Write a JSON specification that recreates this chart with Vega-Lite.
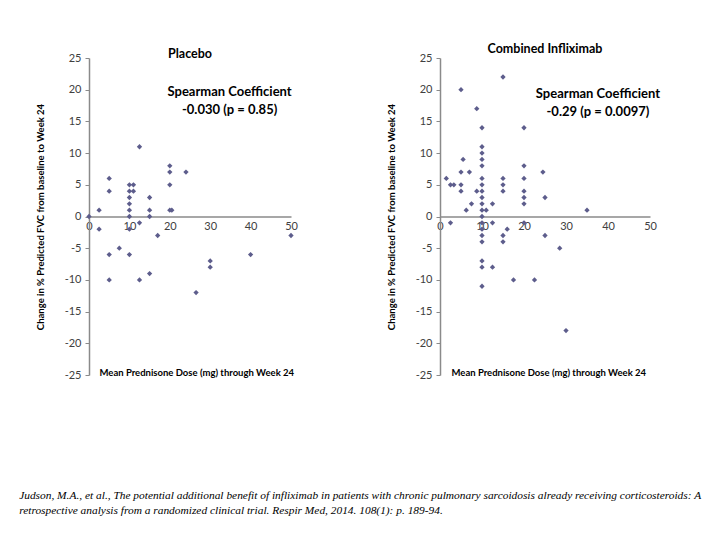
{
  "$schema": "https://vega.github.io/schema/vega-lite/v6.json",
  "background": "white",
  "padding": {"left": 19, "top": 43, "right": 5, "bottom": 5},
  "datasets": {
    "placebo": [
      {"dose": 0, "change": 0}, {"dose": 2.5, "change": 1}, {"dose": 2.5, "change": -2},
      {"dose": 5, "change": 6}, {"dose": 5, "change": 4}, {"dose": 5, "change": -6}, {"dose": 5, "change": -10},
      {"dose": 7.5, "change": -5}, {"dose": 10, "change": 5}, {"dose": 11, "change": 5}, {"dose": 10, "change": 4},
      {"dose": 11, "change": 4}, {"dose": 10, "change": 3}, {"dose": 10, "change": 2}, {"dose": 10, "change": 1},
      {"dose": 10, "change": 0}, {"dose": 10, "change": -2}, {"dose": 10, "change": -6}, {"dose": 12.5, "change": 11},
      {"dose": 12.5, "change": -1}, {"dose": 12.5, "change": -10}, {"dose": 15, "change": 3}, {"dose": 15, "change": 1},
      {"dose": 15, "change": 0}, {"dose": 15, "change": -9}, {"dose": 17, "change": -3}, {"dose": 20, "change": 8},
      {"dose": 20, "change": 7}, {"dose": 20, "change": 5}, {"dose": 20, "change": 1}, {"dose": 20.5, "change": 1},
      {"dose": 24, "change": 7}, {"dose": 26.5, "change": -12}, {"dose": 30, "change": -7}, {"dose": 30, "change": -8},
      {"dose": 40, "change": -6}, {"dose": 50, "change": -3}
    ],
    "infliximab": [
      {"dose": 1.5, "change": 6}, {"dose": 2.5, "change": 5}, {"dose": 3.3, "change": 5}, {"dose": 2.5, "change": -1},
      {"dose": 5, "change": 20}, {"dose": 5, "change": 7}, {"dose": 5, "change": 5}, {"dose": 5, "change": 4},
      {"dose": 5.5, "change": 9}, {"dose": 6.25, "change": 1}, {"dose": 7, "change": 7}, {"dose": 7.5, "change": 2},
      {"dose": 8.75, "change": 17}, {"dose": 8.75, "change": 4}, {"dose": 10, "change": 14}, {"dose": 10, "change": 11},
      {"dose": 10, "change": 10}, {"dose": 10, "change": 9}, {"dose": 10, "change": 8}, {"dose": 10, "change": 6},
      {"dose": 10, "change": 5}, {"dose": 10, "change": 4}, {"dose": 10, "change": 3}, {"dose": 10, "change": 2},
      {"dose": 10, "change": 1}, {"dose": 10, "change": 0}, {"dose": 10, "change": -1}, {"dose": 10, "change": -2},
      {"dose": 10, "change": -3}, {"dose": 10, "change": -4}, {"dose": 10, "change": -7}, {"dose": 10, "change": -8},
      {"dose": 10, "change": -11}, {"dose": 11, "change": 1}, {"dose": 12.5, "change": 2}, {"dose": 12.5, "change": -1},
      {"dose": 12.5, "change": -8}, {"dose": 15, "change": 22}, {"dose": 15, "change": 6}, {"dose": 15, "change": 5},
      {"dose": 15, "change": 4}, {"dose": 15, "change": -3}, {"dose": 15, "change": -4}, {"dose": 16, "change": -2},
      {"dose": 17.5, "change": -10}, {"dose": 20, "change": 14}, {"dose": 20, "change": 8}, {"dose": 20, "change": 6},
      {"dose": 20, "change": 4}, {"dose": 20, "change": 3}, {"dose": 20, "change": 2}, {"dose": 20, "change": -1},
      {"dose": 22.5, "change": -10}, {"dose": 24.5, "change": 7}, {"dose": 25, "change": 3}, {"dose": 25, "change": -3},
      {"dose": 28.5, "change": -5}, {"dose": 30, "change": -18}, {"dose": 35, "change": 1}
    ]
  },
  "title": {
    "text": ["Judson, M.A., et al., The potential additional benefit of infliximab in patients with chronic pulmonary sarcoidosis already receiving corticosteroids: A", "retrospective analysis from a randomized clinical trial. Respir Med, 2014. 108(1): p. 189-94."],
    "orient": "bottom", "anchor": "start", "font": "Liberation Serif", "fontSize": 11.4, "fontStyle": "italic",
    "fontWeight": "normal", "color": "#000000", "offset": 110, "dx": -16, "lineHeight": 15
  },
  "spacing": 88,
  "config": {
    "view": {"stroke": null},
    "axisX": {"orient": "bottom", "offset": -158.5, "grid": false, "ticks": false, "domainColor": "#8a8a8a", "domainWidth": 1.5,
      "labelFont": "Lato", "labelFontSize": 11, "labelColor": "#404040", "labelPadding": 4, "labelFlush": false, "labelOverlap": false,
      "titleFont": "Lato", "titleFontSize": 9.5, "titleFontWeight": "bold", "titleColor": "#000000", "titleY": 156, "titleAlign": "left", "titleBaseline": "middle"},
    "axisY": {"grid": false, "ticks": true, "tickSize": 4, "tickColor": "#8a8a8a", "domainColor": "#8a8a8a", "domainWidth": 1.5,
      "labelFont": "Lato", "labelFontSize": 11, "labelColor": "#404040", "labelPadding": 4, "labelOverlap": false,
      "titleFont": "Lato", "titleFontSize": 9.5, "titleFontWeight": "bold", "titleColor": "#000000", "titlePadding": 19}
  },
  "hconcat": [
    {
      "width": 202, "height": 317,
      "title": {"text": "Placebo", "font": "Lato", "fontSize": 12.5, "fontWeight": "bold", "color": "#000000", "offset": -8},
      "layer": [
        {
          "data": {"name": "placebo"},
          "mark": {"type": "point", "shape": "diamond", "filled": true, "size": 28, "color": "#5d5d8c", "opacity": 1},
          "encoding": {
            "x": {"field": "dose", "type": "quantitative", "scale": {"domain": [0, 50], "nice": false, "zero": false},
              "axis": {"values": [0, 10, 20, 30, 40, 50], "labelExpr": "'' + datum.value", "title": "Mean Prednisone Dose (mg) through Week 24", "titleX": 10}},
            "y": {"field": "change", "type": "quantitative", "scale": {"domain": [-25, 25], "nice": false, "zero": false},
              "axis": {"values": [-25, -20, -15, -10, -5, 0, 5, 10, 15, 20, 25], "labelExpr": "'' + datum.value", "title": "Change in % Predicted FVC from baseline to Week 24"}}
          }
        },
        {
          "data": {"values": [{}]},
          "mark": {"type": "text", "font": "Lato", "fontSize": 13, "fontWeight": "bold", "lineHeight": 18, "align": "center", "baseline": "middle", "color": "#000000"},
          "encoding": {
            "x": {"datum": 34.8, "type": "quantitative", "axis": {"values": [0, 10, 20, 30, 40, 50], "labelExpr": "'' + datum.value", "title": "Mean Prednisone Dose (mg) through Week 24", "titleX": 10}},
            "y": {"datum": 19.65, "type": "quantitative", "axis": {"values": [-25, -20, -15, -10, -5, 0, 5, 10, 15, 20, 25], "labelExpr": "'' + datum.value", "title": "Change in % Predicted FVC from baseline to Week 24"}},
            "text": {"value": ["Spearman Coefficient", "-0.030 (p = 0.85)"]}}
        }
      ]
    },
    {
      "width": 210, "height": 317,
      "title": {"text": "Combined Infliximab", "font": "Lato", "fontSize": 12.5, "fontWeight": "bold", "color": "#000000", "offset": -3.5},
      "layer": [
        {
          "data": {"name": "infliximab"},
          "mark": {"type": "point", "shape": "diamond", "filled": true, "size": 28, "color": "#5d5d8c", "opacity": 1},
          "encoding": {
            "x": {"field": "dose", "type": "quantitative", "scale": {"domain": [0, 50], "nice": false, "zero": false},
              "axis": {"values": [0, 10, 20, 30, 40, 50], "labelExpr": "'' + datum.value", "title": "Mean Prednisone Dose (mg) through Week 24", "titleX": 11}},
            "y": {"field": "change", "type": "quantitative", "scale": {"domain": [-25, 25], "nice": false, "zero": false},
              "axis": {"values": [-25, -20, -15, -10, -5, 0, 5, 10, 15, 20, 25], "labelExpr": "'' + datum.value", "title": "Change in % Predicted FVC from baseline to Week 24"}}
          }
        },
        {
          "data": {"values": [{}]},
          "mark": {"type": "text", "font": "Lato", "fontSize": 13, "fontWeight": "bold", "lineHeight": 18, "align": "center", "baseline": "middle", "color": "#000000"},
          "encoding": {
            "x": {"datum": 37.6, "type": "quantitative", "axis": {"values": [0, 10, 20, 30, 40, 50], "labelExpr": "'' + datum.value", "title": "Mean Prednisone Dose (mg) through Week 24", "titleX": 11}},
            "y": {"datum": 19.3, "type": "quantitative", "axis": {"values": [-25, -20, -15, -10, -5, 0, 5, 10, 15, 20, 25], "labelExpr": "'' + datum.value", "title": "Change in % Predicted FVC from baseline to Week 24"}},
            "text": {"value": ["Spearman Coefficient", "-0.29 (p = 0.0097)"]}}
        }
      ]
    }
  ]
}
